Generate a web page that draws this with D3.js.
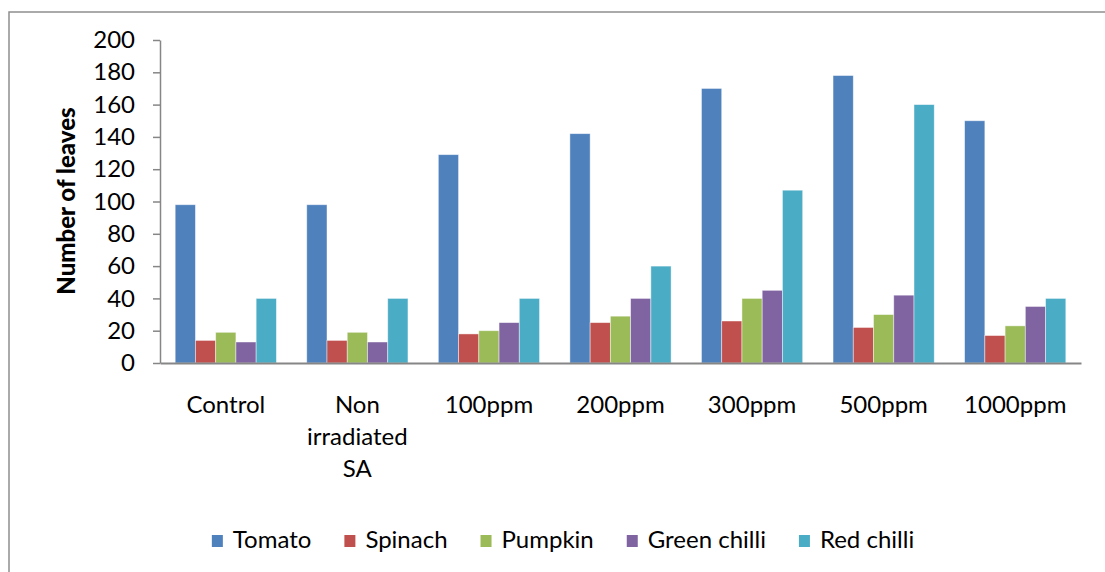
<!DOCTYPE html>
<html>
<head>
<meta charset="utf-8">
<script src="https://cdn.jsdelivr.net/npm/d3@7"></script>
<style>
  html, body { margin: 0; padding: 0; background: #fff; }
  svg { display: block; font-family: Lato, "Open Sans", sans-serif; }
</style>
</head>
<body>
<svg id="chart" width="1105" height="572"></svg>
<script>
// Treatments along the x axis
const categories = ["Control", "Non irradiated SA", "100ppm", "200ppm", "300ppm", "500ppm", "1000ppm"];

// Crops (one bar per crop in each treatment group)
const seriesNames = ["Tomato", "Spinach", "Pumpkin", "Green chilli", "Red chilli"];
const seriesColors = ["#4F81BD", "#C0504D", "#9BBB59", "#8064A2", "#4BACC6"];

// Number of leaves per crop, in treatment order
const tomato      = [98, 98, 129, 142, 170, 178, 150];
const spinach     = [14, 14, 18, 25, 26, 22, 17];
const pumpkin     = [19, 19, 20, 29, 40, 30, 23];
const greenChilli = [13, 13, 25, 40, 45, 42, 35];
const redChilli   = [40, 40, 40, 60, 107, 160, 40];

const yTicks = [0, 20, 40, 60, 80, 100, 120, 140, 160, 180, 200];
const yTitle = "Number of leaves";

const seriesValues = [tomato, spinach, pumpkin, greenChilli, redChilli];
const rows = categories.map((c, i) => ({
  category: c,
  values: seriesNames.map((s, j) => ({ series: s, value: seriesValues[j][i] }))
}));

const svg = d3.select("#chart");
const axisColor = "#868686";
const fontSize = 24;

// Chart frame
svg.append("rect")
  .attr("x", 9).attr("y", 12)
  .attr("width", 1110).attr("height", 580)
  .attr("fill", "none")
  .attr("stroke", "#8e8e8e")
  .attr("stroke-width", 1.5);

const plotLeft = 160, plotRight = 1081, plotTop = 40, plotBottom = 363;

// Clustered columns: gap between groups = 1.5 bar widths
const gapRatio = 1.5 / 6.5;
const x = d3.scaleBand()
  .domain(categories)
  .range([plotLeft, plotRight])
  .paddingInner(gapRatio)
  .paddingOuter(gapRatio / 2);

const xInner = d3.scaleBand()
  .domain(seriesNames)
  .range([0, x.bandwidth()]);

const y = d3.scaleLinear().domain([0, 200]).range([plotBottom, plotTop]);

const color = d3.scaleOrdinal().domain(seriesNames).range(seriesColors);

// Bars
const groups = svg.append("g")
  .selectAll("g")
  .data(rows)
  .join("g")
  .attr("transform", d => `translate(${x(d.category)},0)`);

groups.selectAll("rect")
  .data(d => d.values)
  .join("rect")
  .attr("x", d => xInner(d.series))
  .attr("y", d => y(d.value))
  .attr("width", xInner.bandwidth())
  .attr("height", d => y(0) - y(d.value))
  .attr("fill", d => color(d.series))
  .attr("stroke", "rgba(255,255,255,0.55)")
  .attr("stroke-width", 0.8);

// Y axis
const yAxis = svg.append("g")
  .attr("transform", `translate(${plotLeft},0)`)
  .call(d3.axisLeft(y).tickValues(yTicks).tickSize(7).tickSizeOuter(0).tickPadding(18));
yAxis.select(".domain").attr("stroke", axisColor).attr("stroke-width", 1.5);
yAxis.selectAll(".tick line").attr("stroke", axisColor).attr("stroke-width", 1.5);
yAxis.selectAll(".tick text")
  .attr("fill", "#000")
  .style("font-size", fontSize + "px")
  .style("font-family", "Lato, sans-serif");

// X axis
const xAxis = svg.append("g")
  .attr("transform", `translate(0,${plotBottom})`)
  .call(d3.axisBottom(x).tickSize(0).tickSizeOuter(0).tickPadding(0));
xAxis.select(".domain").attr("stroke", axisColor).attr("stroke-width", 2);
xAxis.selectAll(".tick text")
  .attr("fill", "#000")
  .style("font-size", fontSize + "px")
  .style("font-family", "Lato, sans-serif")
  .each(function (d) {
    // wrap category names to the width of one category step
    const text = d3.select(this);
    const words = d.split(" ");
    const maxW = x.step() - 4;
    text.text(null).attr("y", 0).attr("dy", null);
    const lines = [];
    let line = [];
    const probe = text.append("tspan");
    words.forEach(w => {
      const trial = line.concat([w]).join(" ");
      probe.text(trial);
      if (probe.node().getComputedTextLength() > maxW && line.length) {
        lines.push(line.join(" "));
        line = [w];
      } else {
        line.push(w);
      }
    });
    lines.push(line.join(" "));
    probe.remove();
    lines.forEach((l, i) => {
      text.append("tspan")
        .attr("x", 0)
        .attr("y", 50 + i * 32)
        .text(l);
    });
  });

// Y axis title
svg.append("text")
  .attr("transform", `translate(75,201) rotate(-90)`)
  .attr("text-anchor", "middle")
  .style("font-size", "24px")
  .style("font-weight", "900")
  .style("font-family", "Lato, sans-serif")
  .text(yTitle);

// Legend
const legend = svg.append("g");
const items = legend.selectAll("g")
  .data(seriesNames)
  .join("g");
items.append("rect")
  .attr("width", 11).attr("height", 12)
  .attr("y", -13)
  .attr("fill", d => color(d));
items.append("text")
  .attr("x", 21)
  .attr("y", 0)
  .style("font-size", fontSize + "px")
  .style("font-family", "Lato, sans-serif")
  .attr("fill", "#000")
  .text(d => d);

let cursor = 0;
const positions = [];
items.each(function () {
  const w = 21 + d3.select(this).select("text").node().getComputedTextLength();
  positions.push(cursor);
  cursor += w + 33;
});
const totalW = cursor - 33;
const startX = 563 - totalW / 2;
items.attr("transform", (d, i) => `translate(${startX + positions[i]},548)`);
</script>
</body>
</html>
